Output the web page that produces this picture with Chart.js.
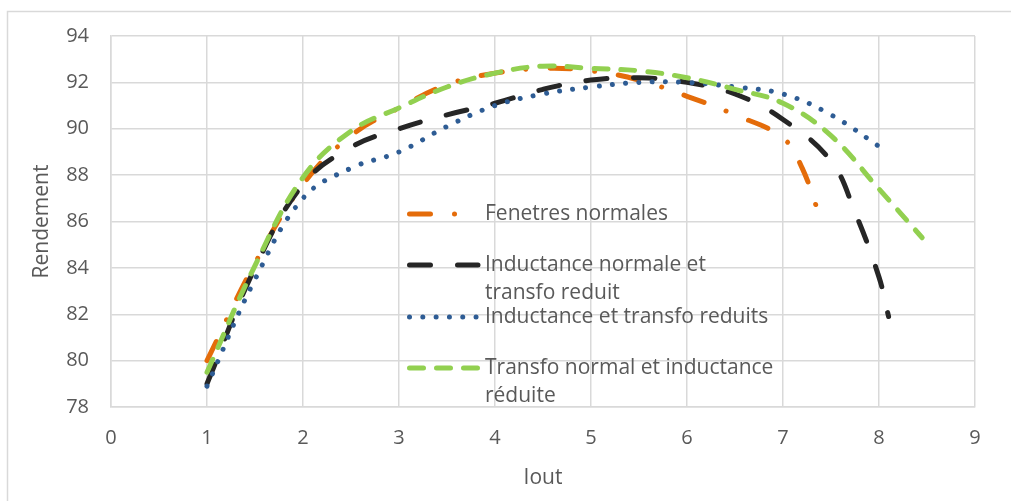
<!DOCTYPE html>
<html lang="fr">
<head>
<meta charset="UTF-8">
<title>Rendement vs Iout</title>
<script src="https://cdn.jsdelivr.net/npm/chart.js"></script>
<style>
    html, body { margin: 0; padding: 0; background: #fff; }
    #wrap { width: 1011px; height: 501px; }
</style>
</head>
<body>
<div id="wrap"><canvas id="graphe" width="1011" height="501"></canvas></div>
<script>
// données
var nomsSeries = ['Fenetres normales', 'Inductance normale et transfo reduit', 'Inductance et transfo reduits', 'Transfo normal et inductance réduite'];

var xFenetres = [1, 1.5, 2, 2.5, 3, 3.5, 4, 4.5, 5, 5.5, 6, 6.5, 7, 7.2, 7.4];
var yFenetres = [80.0, 84.2, 87.6, 89.7, 90.9, 91.9, 92.4, 92.6, 92.5, 92.1, 91.4, 90.6, 89.6, 88.3, 86.0];

var xInductNormale = [1, 1.5, 2, 2.5, 3, 3.5, 4, 4.5, 5, 5.5, 6, 6.5, 7, 7.5, 7.75, 8, 8.1];
var yInductNormale = [79.0, 84.0, 87.6, 89.2, 90.0, 90.6, 91.1, 91.7, 92.1, 92.2, 92.0, 91.5, 90.4, 88.6, 86.4, 83.6, 81.9];

var xReduits = [1, 1.5, 2, 2.5, 3, 3.5, 4, 4.5, 5, 5.5, 6, 6.5, 7, 7.5, 8.05];
var yReduits = [78.9, 83.5, 87.0, 88.3, 89.0, 90.1, 91.0, 91.5, 91.8, 92.0, 92.0, 91.8, 91.5, 90.6, 89.1];

var xTransfoNormal = [1, 1.5, 2, 2.5, 3, 3.5, 4, 4.5, 5, 5.5, 6, 6.5, 7, 7.5, 8, 8.45];
var yTransfoNormal = [79.5, 84.1, 87.9, 89.9, 90.9, 91.8, 92.4, 92.7, 92.6, 92.5, 92.2, 91.7, 91.1, 89.7, 87.4, 85.3];

var ticksX = [0, 1, 2, 3, 4, 5, 6, 7, 8, 9];
var ticksY = [78, 80, 82, 84, 86, 88, 90, 92, 94];

// styles des séries (couleur, tirets)
var couleurs = ['#E46C0A', '#262626', '#2E5C94', '#92D050'];
var tirets = [[21, 24, 0.01, 24], [21, 27], [0.01, 13.3], [14, 13]];
var epaisseur = 5;

function points(xs, ys) {
    var res = [];
    for (var i = 0; i < xs.length; i++) res.push({ x: xs[i], y: ys[i] });
    return res;
}

function serie(i, xs, ys) {
    return {
        label: nomsSeries[i],
        data: points(xs, ys),
        borderColor: couleurs[i],
        backgroundColor: couleurs[i],
        borderWidth: epaisseur,
        borderDash: tirets[i],
        borderCapStyle: 'round',
        borderJoinStyle: 'round',
        pointRadius: 0,
        tension: 0.4,
        fill: false,
        order: 3 - i
    };
}

var texteGris = '#595959';
var police = "'Open Sans', 'Liberation Sans', sans-serif";

// légende dessinée à l'intérieur de la zone du graphique + cadre extérieur
var legendeInterne = {
    id: 'legendeInterne',
    afterDraw: function (chart) {
        var ctx = chart.ctx;
        ctx.save();
        ctx.strokeStyle = '#d9d9d9';
        ctx.lineWidth = 1.5;
        ctx.strokeRect(7.5, 11.5, 1020, 520);

        var lignes = [
            { y: 214, textes: ['Fenetres normales'] },
            { y: 265, textes: ['Inductance normale et', 'transfo reduit'] },
            { y: 317, textes: ['Inductance et transfo reduits'] },
            { y: 368, textes: ['Transfo normal et inductance', 'réduite'] }
        ];
        for (var i = 0; i < lignes.length; i++) {
            var l = lignes[i];
            ctx.beginPath();
            ctx.setLineDash(tirets[i]);
            ctx.lineCap = 'round';
            ctx.strokeStyle = couleurs[i];
            ctx.lineWidth = epaisseur;
            ctx.moveTo(409.5, l.y);
            ctx.lineTo(478, l.y);
            ctx.stroke();
            ctx.setLineDash([]);
            ctx.fillStyle = texteGris;
            ctx.font = '21px ' + police;
            ctx.textBaseline = 'middle';
            ctx.textAlign = 'left';
            for (var k = 0; k < l.textes.length; k++) {
                ctx.fillText(l.textes[k], 485, l.y + k * 28);
            }
        }
        ctx.restore();
    }
};

new Chart(document.getElementById('graphe').getContext('2d'), {
    type: 'line',
    data: {
        datasets: [
            serie(0, xFenetres, yFenetres),
            serie(1, xInductNormale, yInductNormale),
            serie(2, xReduits, yReduits),
            serie(3, xTransfoNormal, yTransfoNormal)
        ]
    },
    options: {
        responsive: false,
        animation: false,
        layout: { padding: { left: 8, top: 36, right: 36, bottom: 0 } },
        plugins: {
            legend: { display: false },
            tooltip: { enabled: false }
        },
        scales: {
            x: {
                type: 'linear',
                min: 0,
                max: 9,
                afterBuildTicks: function (s) { s.ticks = ticksX.map(function (v) { return { value: v }; }); },
                afterFit: function (s) { s.height = 94; },
                grid: { color: '#d9d9d9', lineWidth: 1.5, drawTicks: false },
                border: { color: '#d9d9d9', width: 1.5 },
                ticks: { color: texteGris, font: { size: 20, family: police }, padding: 19 },
                title: { display: true, text: 'Iout', color: texteGris, font: { size: 21, family: police }, padding: { top: 0, bottom: 10 } }
            },
            y: {
                min: 78,
                max: 94,
                afterBuildTicks: function (s) { s.ticks = ticksY.map(function (v) { return { value: v }; }); },
                afterFit: function (s) { s.width = 103; },
                grid: { color: '#d9d9d9', lineWidth: 1.5, drawTicks: false },
                border: { color: '#d9d9d9', width: 1.5 },
                ticks: { color: texteGris, font: { size: 20, family: police }, padding: 22 },
                title: { display: true, text: 'Rendement', color: texteGris, font: { size: 21, family: police }, padding: { top: 21, bottom: 0 } }
            }
        }
    },
    plugins: [legendeInterne]
});
</script>
</body>
</html>
